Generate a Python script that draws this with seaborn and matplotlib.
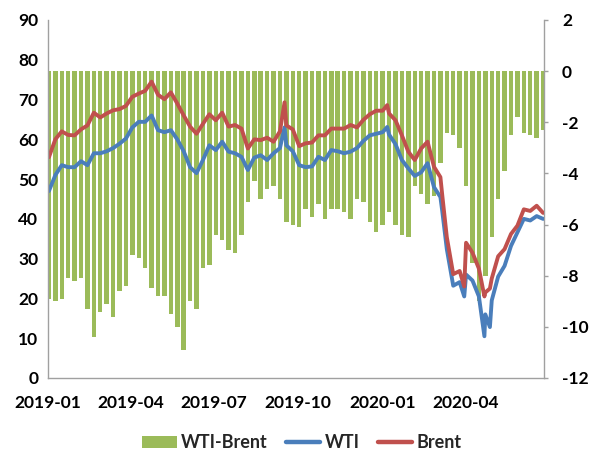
import numpy as np
import pandas as pd
import matplotlib
matplotlib.use("Agg")
import matplotlib.pyplot as plt
import matplotlib.dates as mdates
from matplotlib.patches import Patch
from matplotlib.lines import Line2D
import seaborn as sns

# ---- data (weekly readings, week starting Monday) ----
week_start = pd.date_range("2018-12-31", periods=78, freq="7D")

wti_weekly = [47.0, 51.0, 53.5, 53.0, 53.0, 54.5, 53.5, 56.5, 56.5, 57.0,
              57.8, 58.9, 60.2, 63.0, 64.4, 64.4, 66.0, 62.3, 61.8, 62.3,
              60.0, 57.0, 53.0, 51.5, 54.8, 58.5, 57.3, 59.4, 56.9, 56.5,
              55.6, 52.3, 55.4, 56.0, 54.8, 56.5, 57.8, 58.5, 57.0, 53.5,
              53.0, 53.2, 55.6, 54.8, 57.3, 57.0, 56.5, 56.9, 57.8, 59.6,
              61.0, 61.4, 61.8, 61.2, 58.8, 54.8, 52.7, 50.8, 51.7, 54.0,
              48.0, 45.5, 32.4, 23.2, 24.1, 26.0, 24.5, 20.5, 16.0, 19.5,
              25.5, 28.2, 33.2, 36.6, 40.0, 39.6, 40.7, 40.0]

brent_weekly = [55.5, 60.0, 62.0, 61.1, 61.0, 62.5, 63.5, 66.7, 65.5, 66.5,
                67.3, 67.6, 68.4, 70.7, 71.5, 72.2, 74.5, 71.2, 70.1, 71.8,
                69.0, 66.0, 63.2, 61.4, 63.9, 66.3, 64.8, 66.7, 63.2, 63.6,
                62.7, 57.7, 60.0, 59.8, 60.4, 59.4, 62.0, 63.5, 62.5, 58.3,
                59.0, 59.2, 61.0, 61.0, 62.7, 62.7, 62.7, 63.6, 63.0, 64.9,
                66.3, 67.2, 67.2, 66.5, 64.8, 61.0, 56.9, 54.8, 57.7, 59.4,
                53.1, 50.5, 35.4, 26.1, 26.9, 34.0, 31.5, 27.5, 21.5, 25.0,
                30.6, 32.4, 36.2, 38.3, 42.4, 42.0, 43.3, 41.5]

spread_weekly = [-8.9, -9.0, -8.9, -8.1, -8.2, -8.1, -9.3, -10.4, -9.4, -9.1,
                 -9.6, -8.6, -8.4, -7.2, -7.3, -7.7, -8.5, -8.8, -8.8, -9.5,
                 -10.0, -10.9, -9.0, -9.3, -7.7, -7.6, -6.4, -6.6, -7.0, -7.1,
                 -6.4, -5.1, -4.3, -5.0, -4.6, -4.5, -5.0, -5.9, -6.0, -6.1,
                 -5.4, -5.7, -5.2, -5.8, -5.4, -5.4, -5.5, -5.8, -5.0, -5.1,
                 -5.9, -6.3, -6.0, -5.5, -6.0, -6.4, -6.5, -4.5, -4.8, -5.2,
                 -4.9, -3.6, -2.4, -2.5, -3.0, -4.5, -7.5, -9.0, -8.0, -6.5,
                 -5.0, -3.9, -2.5, -1.8, -2.4, -2.5, -2.6, -2.3]

# single-day moves visible in the lines
extra_dates = ["2019-09-16", "2020-01-06", "2020-03-06", "2020-03-30",
               "2020-04-21", "2020-04-27"]
extra_wti = [63.0, 63.1, 42.0, 20.5, 10.5, 12.8]
extra_brent = [69.3, 68.6, 46.0, 23.0, 20.5, 22.5]

C_GREEN = "#9BBB59"
C_BLUE = "#4A7EBB"
C_RED = "#C0504D"
C_AXIS = "#A0A0A0"

# ---- build tidy frame for lines ----
line_dates = list(week_start + pd.Timedelta(days=2)) + list(pd.to_datetime(extra_dates))
df = pd.DataFrame({
    "date": line_dates,
    "WTI": list(wti_weekly) + extra_wti,
    "Brent": list(brent_weekly) + extra_brent,
}).sort_values("date")
long = df.melt(id_vars="date", var_name="series", value_name="price")

sns.set_theme(style="white")
plt.rcParams["font.family"] = ["Lato", "DejaVu Sans"]
plt.rcParams["font.weight"] = "bold"
plt.rcParams["axes.unicode_minus"] = False

fig = plt.figure(figsize=(5.92, 4.54), dpi=100)
ax = fig.add_axes([48 / 592, 1 - 378 / 454, 496 / 592, 358 / 454])
ax2 = ax.twinx()

# bars (spread) on right axis
ax2.bar(week_start - pd.Timedelta(hours=10), spread_weekly, width=4.85,
        align="edge", color=C_GREEN, linewidth=0)

# lines on left axis
sns.lineplot(data=long, x="date", y="price", hue="series",
             palette={"WTI": C_BLUE, "Brent": C_RED}, hue_order=["WTI", "Brent"],
             linewidth=2.8, ax=ax, legend=False, sort=True, estimator=None)

ax.set_zorder(ax2.get_zorder() + 1)
ax.patch.set_visible(False)

ax.set_xlim(pd.Timestamp("2019-01-01"), pd.Timestamp("2020-06-25"))
ax.set_ylim(0, 90)
ax2.set_ylim(-12, 2)
ax.set_yticks(range(0, 91, 10))
ax2.set_yticks(range(-12, 3, 2))
ax.xaxis.set_major_locator(mdates.MonthLocator(bymonth=[1, 4, 7, 10]))
ax.xaxis.set_major_formatter(mdates.DateFormatter("%Y-%m"))
ax.set_xlabel("")
ax.set_ylabel("")
ax2.set_ylabel("")

fs = 12.5
ax.tick_params(axis="y", length=0, pad=7, labelsize=fs, colors="black")
ax.tick_params(axis="x", length=0, pad=12.5, labelsize=fs, colors="black")
ax2.tick_params(axis="y", length=3, width=1, color=C_AXIS, pad=10,
                labelsize=fs, labelcolor="black", direction="out")
for lab in ax.get_xticklabels() + ax.get_yticklabels() + ax2.get_yticklabels():
    lab.set_fontweight("bold")

for s in ["top", "right"]:
    ax.spines[s].set_visible(False)
for s in ["left", "bottom"]:
    ax.spines[s].set_color(C_AXIS)
    ax.spines[s].set_linewidth(1)
for s in ["top", "left", "bottom"]:
    ax2.spines[s].set_visible(False)
ax2.spines["right"].set_color(C_AXIS)
ax2.spines["right"].set_linewidth(1)

handles = [Patch(facecolor=C_GREEN, edgecolor="none"),
           Line2D([0], [0], color=C_BLUE, linewidth=3.2),
           Line2D([0], [0], color=C_RED, linewidth=3.2)]
labels = ["WTI-Brent", "WTI", "Brent"]
fig.legend(handles, labels, loc="lower center", bbox_to_anchor=(0.51, -0.03),
           ncol=3, frameon=False, prop={"size": 13, "weight": "bold"},
           handlelength=1.9, handletextpad=0.25, columnspacing=1.0)

fig.savefig("out.png", dpi=100)
